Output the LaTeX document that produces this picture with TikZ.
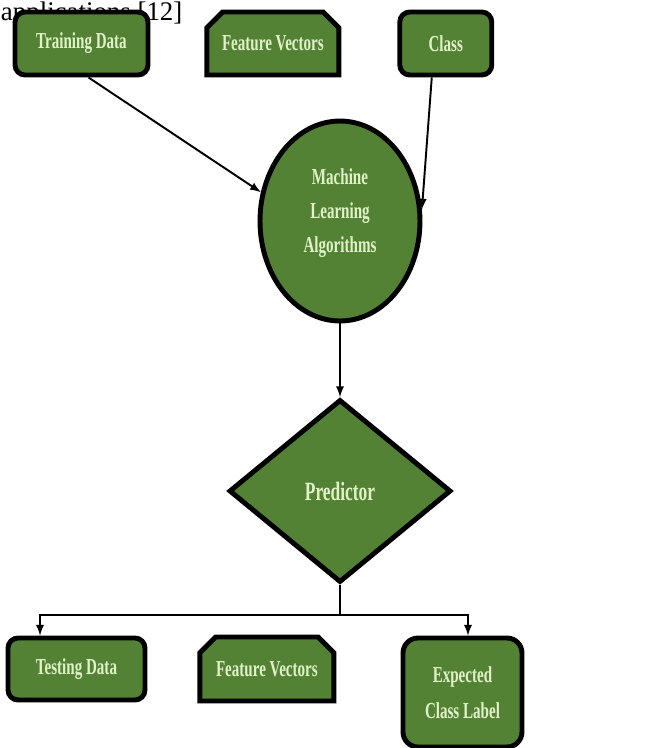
\documentclass[tikz,border=0pt]{standalone}
\usepackage{fontspec}
\setmainfont{Liberation Serif}
\newfontfamily\boxfont[FakeStretch=0.66]{Liberation Serif}
\usepackage{tikz}
\usetikzlibrary{positioning,shapes.geometric,shapes.misc}
\definecolor{leaf}{RGB}{84,130,53}
\definecolor{pale}{RGB}{224,242,200}

\begin{document}
\begin{tikzpicture}[x=0.02cm, y=-0.02cm, ->, >=latex, line width=1.1pt]
\tikzstyle{bloc}=[draw, line width=2.8pt, fill=leaf, text=pale, align=center,
                  font=\boxfont\bfseries\fontsize{13}{19.5}\selectfont]
% boites arrondies et boites a coins coupes
\tikzstyle{rond}=[bloc, rounded corners=0.2cm, minimum height=1.26cm]
\tikzstyle{coupe}=[bloc, chamfered rectangle, chamfered rectangle corners={north west,north east},
                   chamfered rectangle xsep=0.16cm, chamfered rectangle ysep=0.16cm,
                   minimum height=1.26cm, inner sep=0pt]
\tikzstyle{ovale}=[bloc, ellipse, minimum width=3.2cm, minimum height=4cm, inner sep=0pt]
\tikzstyle{losange}=[bloc, diamond, minimum width=4.44cm, minimum height=3.66cm, aspect=1.21, inner sep=0pt]

\clip (0,0) rectangle (649,748);
\node[anchor=base west, inner sep=0pt, font=\fontsize{15.3}{18}\selectfont] (titre) at (0,20) {applications [12]};

\node[rond, minimum width=2.66cm] (train) at (81.5,43.5) {Training Data};
\node[coupe, minimum width=2.64cm] (fv1) [right=1.08cm of train] {Feature Vectors};
\node[rond, minimum width=1.84cm] (cls) [right=1.12cm of fv1] {Class};
\node[ovale] (mla) at (340,221) {Machine\\Learning\\Algorithms\\[-0.27cm]};
\node[losange, font=\boxfont\bfseries\fontsize{15}{18}\selectfont] (pred) at (340,491) {Predictor};

\node[rond, minimum width=2.74cm, minimum height=1.24cm] (test) at (76.5,669) {Testing Data};
\node[coupe, minimum width=2.68cm, minimum height=1.28cm] (fv2) [right=1cm of test] {Feature Vectors};
\node[rond, rounded corners=0.3cm, minimum width=2.38cm, minimum height=2.18cm,
      font=\boxfont\bfseries\fontsize{13}{20.5}\selectfont] (exp) at (462.5,692.5) {Expected\\Class Label};

\coordinate (split) at (340,615);

\draw ([xshift=0.14cm]train.south) -- (mla.160);
\draw ([xshift=-0.28cm]cls.south) -- (mla.8);
\draw (mla.south) -- (pred.north);
\draw[-] (pred.south) -- (split);
\draw (split) -| ([xshift=-0.73cm]test.north);
\draw (split) -| ([xshift=0.11cm]exp.north);
\end{tikzpicture}
\end{document}
